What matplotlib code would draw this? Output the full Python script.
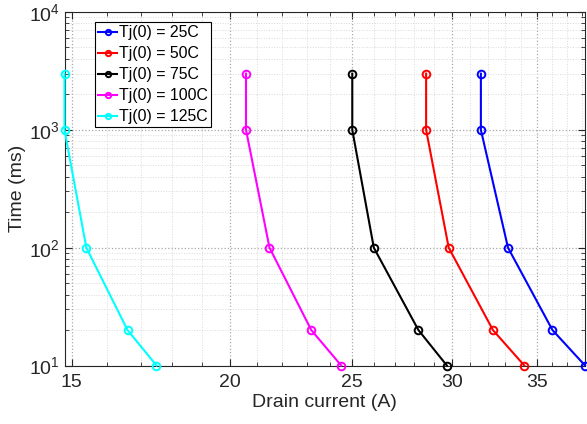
import matplotlib
matplotlib.use("Agg")
import matplotlib.pyplot as plt
from matplotlib.ticker import FixedLocator, FixedFormatter, LogLocator, NullFormatter

plt.rcParams['font.family'] = ['Liberation Sans', 'DejaVu Sans']
plt.rcParams['mathtext.fontset'] = 'custom'
plt.rcParams['mathtext.rm'] = 'Liberation Sans'
plt.rcParams['mathtext.default'] = 'regular'

# Time to reach limit (ms) for each initial junction temperature
time_ms = [3000, 1000, 100, 20, 10]
current_25 = [31.6, 31.6, 33.2, 36.0, 38.2]
current_50 = [28.6, 28.6, 29.8, 32.3, 34.2]
current_75 = [25.0, 25.0, 26.0, 28.2, 29.7]
current_100 = [20.6, 20.6, 21.5, 23.2, 24.5]
current_125 = [14.8, 14.8, 15.4, 16.6, 17.5]

labels = ['Tj(0) = 25C', 'Tj(0) = 50C', 'Tj(0) = 75C', 'Tj(0) = 100C', 'Tj(0) = 125C']
colors = ['#0000ff', '#ff0000', '#000000', '#ff00ff', '#00ffff']
series = [current_25, current_50, current_75, current_100, current_125]

x_ticks = [15, 20, 25, 30, 35]
x_tick_labels = ['15', '20', '25', '30', '35']

txt = '#262626'

fig = plt.figure(figsize=(5.87, 4.24), dpi=100)
ax = fig.add_axes([64.5 / 587, (424 - 365.5) / 424, (585 - 64.5) / 587, (365.5 - 12) / 424])

for xs, c, lab in zip(series, colors, labels):
    ax.plot(xs, time_ms, color=c, lw=1.5, marker='o', ms=5.5, mew=1.4,
            mfc='none', label=lab, clip_on=False, zorder=3)

ax.set_xscale('log')
ax.set_yscale('log')
ax.set_xlim(min(current_125), max(current_25))
ax.set_ylim(10, 1e4)

ax.xaxis.set_major_locator(FixedLocator(x_ticks))
ax.xaxis.set_major_formatter(FixedFormatter(x_tick_labels))
ax.xaxis.set_minor_locator(FixedLocator(list(range(15, 39))))
ax.xaxis.set_minor_formatter(NullFormatter())
ax.yaxis.set_major_locator(FixedLocator([10, 100, 1000, 10000]))
ax.yaxis.set_major_formatter(FixedFormatter(['$10^{1}$', '$10^{2}$', '$10^{3}$', '$10^{4}$']))
ax.yaxis.set_minor_locator(LogLocator(base=10, subs=range(2, 10)))
ax.yaxis.set_minor_formatter(NullFormatter())

ax.grid(True, which='major', color='#a8a8a8', linestyle=':', lw=0.9)
ax.grid(True, which='minor', color='#d9d9d9', linestyle=':', lw=0.7)
ax.set_axisbelow(True)

ax.tick_params(which='both', direction='in', top=True, right=True, colors=txt,
               labelsize=14, labelcolor=txt)
ax.tick_params(which='major', length=5, width=0.8)
ax.tick_params(which='minor', length=3, width=0.6)
ax.tick_params(axis='x', pad=6)
for s in ax.spines.values():
    s.set_color(txt)
    s.set_linewidth(0.8)

ax.set_xlabel('Drain current (A)', fontsize=14, color=txt, labelpad=2)
ax.set_ylabel('Time (ms)', fontsize=14, color=txt, labelpad=2)

leg = ax.legend(loc='upper left', bbox_to_anchor=(0.059, 0.972), fontsize=11.4,
                frameon=True, fancybox=False, edgecolor='black', framealpha=1,
                handlelength=1.2, handletextpad=0.1, borderpad=0.2,
                labelspacing=0.38, borderaxespad=0, markerscale=0.7)
leg.get_frame().set_linewidth(0.8)

fig.savefig('out.png', dpi=100)
